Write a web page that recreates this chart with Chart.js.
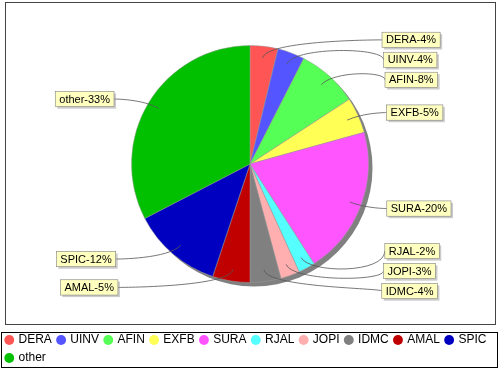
<!DOCTYPE html>
<html>
<head>
<meta charset="utf-8">
<script src="https://cdn.jsdelivr.net/npm/chart.js@4.4.1/dist/chart.umd.min.js"></script>
<style>
  html, body { margin: 0; padding: 0; background: #fff; }
  #wrap { position: relative; width: 500px; height: 370px; }
</style>
</head>
<body>
<div id="wrap"><canvas id="c" width="500" height="370"></canvas></div>
<script>
// ---- data ----
const categories = ['DERA', 'UINV', 'AFIN', 'EXFB', 'SURA', 'RJAL', 'JOPI', 'IDMC', 'AMAL', 'SPIC', 'other'];
const shares = [3.8, 3.7, 8.3, 4.9, 20.2, 2.3, 2.6, 4.2, 5.1, 12.3, 32.6];
const sliceColors = ['#FF5555', '#5555FF', '#55FF55', '#FFFF55', '#FF55FF', '#55FFFF',
                     '#FFAFAF', '#808080', '#C00000', '#0000C0', '#00C000'];

const total = shares.reduce((a, b) => a + b, 0);
const labelTexts = categories.map((c, i) => c + '-' + Math.round(shares[i] / total * 100) + '%');

// pie shadow
const shadowPlugin = {
  id: 'pieShadow',
  beforeDatasetsDraw(chart) {
    const arcs = chart.getDatasetMeta(0).data;
    if (!arcs.length) return;
    const a = arcs[0];
    const ctx = chart.ctx;
    ctx.save();
    ctx.fillStyle = '#808080';
    ctx.beginPath();
    ctx.arc(a.x + 4, a.y + 4, a.outerRadius, 0, Math.PI * 2);
    ctx.fill();
    ctx.restore();
  }
};

// section labels with cubic links, JFreeChart style
const labelPlugin = {
  id: 'pieLabels',
  afterDatasetsDraw(chart) {
    const arcs = chart.getDatasetMeta(0).data;
    const ctx = chart.ctx;
    const R = arcs[0].outerRadius, cx = arcs[0].x, cy = arcs[0].y;
    const Rl = R * 1.055;
    const boxH = 15.3, gap = 20;
    const minY = cy - R * 1.072, maxY = cy + R * 1.072;
    const recs = arcs.map((a, i) => {
      const mid = (a.startAngle + a.endAngle) / 2;
      return { i, mid, right: Math.cos(mid) >= 0, y: cy + Rl * Math.sin(mid) };
    });
    const distribute = (list) => {
      list.sort((p, q) => p.y - q.y);
      const overlap = () => list.some((r, k) => k > 0 && r.y - list[k - 1].y < gap - 0.01);
      if (overlap()) {
        for (let k = 1; k < list.length; k++) {
          if (list[k].y - list[k - 1].y < gap) list[k].y = Math.min(maxY, list[k - 1].y + gap);
        }
      }
      if (overlap()) {
        for (let k = list.length - 2; k >= 0; k--) {
          if (list[k + 1].y - list[k].y < gap) list[k].y = Math.max(minY, list[k + 1].y - gap);
        }
      }
    };
    distribute(recs.filter(r => r.right));
    distribute(recs.filter(r => !r.right));

    ctx.save();
    ctx.font = '11px "Liberation Sans", Arial, sans-serif';
    ctx.textBaseline = 'middle';
    recs.forEach(r => {
      const dy = r.y - cy;
      const D = R * 1.16 * Math.sqrt(Math.max(0, 1 - Math.pow(dy / (R * 3.76), 2)));
      const ax = r.right ? cx + D : cx - D;
      const sx = cx + R * 0.9 * Math.cos(r.mid), sy = cy + R * 0.9 * Math.sin(r.mid);
      const ex = cx + Rl * Math.cos(r.mid), ey = cy + Rl * Math.sin(r.mid);
      // link
      ctx.strokeStyle = '#555555';
      ctx.lineWidth = 0.8;
      ctx.beginPath();
      ctx.moveTo(sx, sy);
      ctx.bezierCurveTo(ex, ey, ax, ey, ax, r.y);
      ctx.stroke();
      // box
      const txt = labelTexts[r.i];
      const tw = ctx.measureText(txt).width;
      const bw = tw + 8;
      const bx = r.right ? ax : ax - bw;
      const by = r.y - boxH / 2;
      ctx.fillStyle = 'rgba(151,151,151,0.5)';
      ctx.fillRect(bx + 2, by + 2, bw, boxH);
      ctx.fillStyle = '#FFFFC0';
      ctx.fillRect(bx, by, bw, boxH);
      ctx.strokeStyle = '#808080';
      ctx.lineWidth = 0.6;
      ctx.strokeRect(bx, by, bw, boxH);
      ctx.fillStyle = '#000';
      ctx.fillText(txt, bx + 4, r.y + 0.5);
    });
    ctx.restore();
  }
};

// borders around plot and legend
const framePlugin = {
  id: 'frames',
  afterDraw(chart) {
    const ctx = chart.ctx;
    const ca = chart.chartArea, lg = chart.legend;
    ctx.save();
    ctx.strokeStyle = '#444444';
    ctx.lineWidth = 1;
    ctx.strokeRect(ca.left + 5.5, ca.top + 2.5, ca.width - 10, ca.height - 6);
    ctx.strokeStyle = '#000000';
    ctx.strokeRect(lg.left + 1.5, lg.top + 4.5, lg.width - 4, lg.height - 7);
    ctx.restore();
  }
};

new Chart(document.getElementById('c'), {
  type: 'pie',
  data: {
    labels: categories,
    datasets: [{
      data: shares,
      backgroundColor: sliceColors,
      borderColor: '#9a9a9a',
      borderWidth: 0.5,
      radius: 118.5
    }]
  },
  options: {
    responsive: false,
    animation: false,
    events: [],
    layout: { padding: 0 },
    plugins: {
      tooltip: { enabled: false },
      legend: {
        position: 'bottom',
        align: 'start',
        maxHeight: 42,
        labels: {
          usePointStyle: true,
          pointStyle: 'circle',
          boxWidth: 6.5,
          boxHeight: 7,
          padding: 6,
          color: '#000',
          font: { family: '"Liberation Sans", Arial, sans-serif', size: 12 },
          generateLabels: (chart) => categories.map((c, i) => ({
            text: c,
            fillStyle: sliceColors[i],
            strokeStyle: sliceColors[i],
            lineWidth: 0,
            pointStyle: 'circle',
            hidden: false,
            index: i
          }))
        }
      }
    }
  },
  plugins: [shadowPlugin, labelPlugin, framePlugin]
});
</script>
</body>
</html>
